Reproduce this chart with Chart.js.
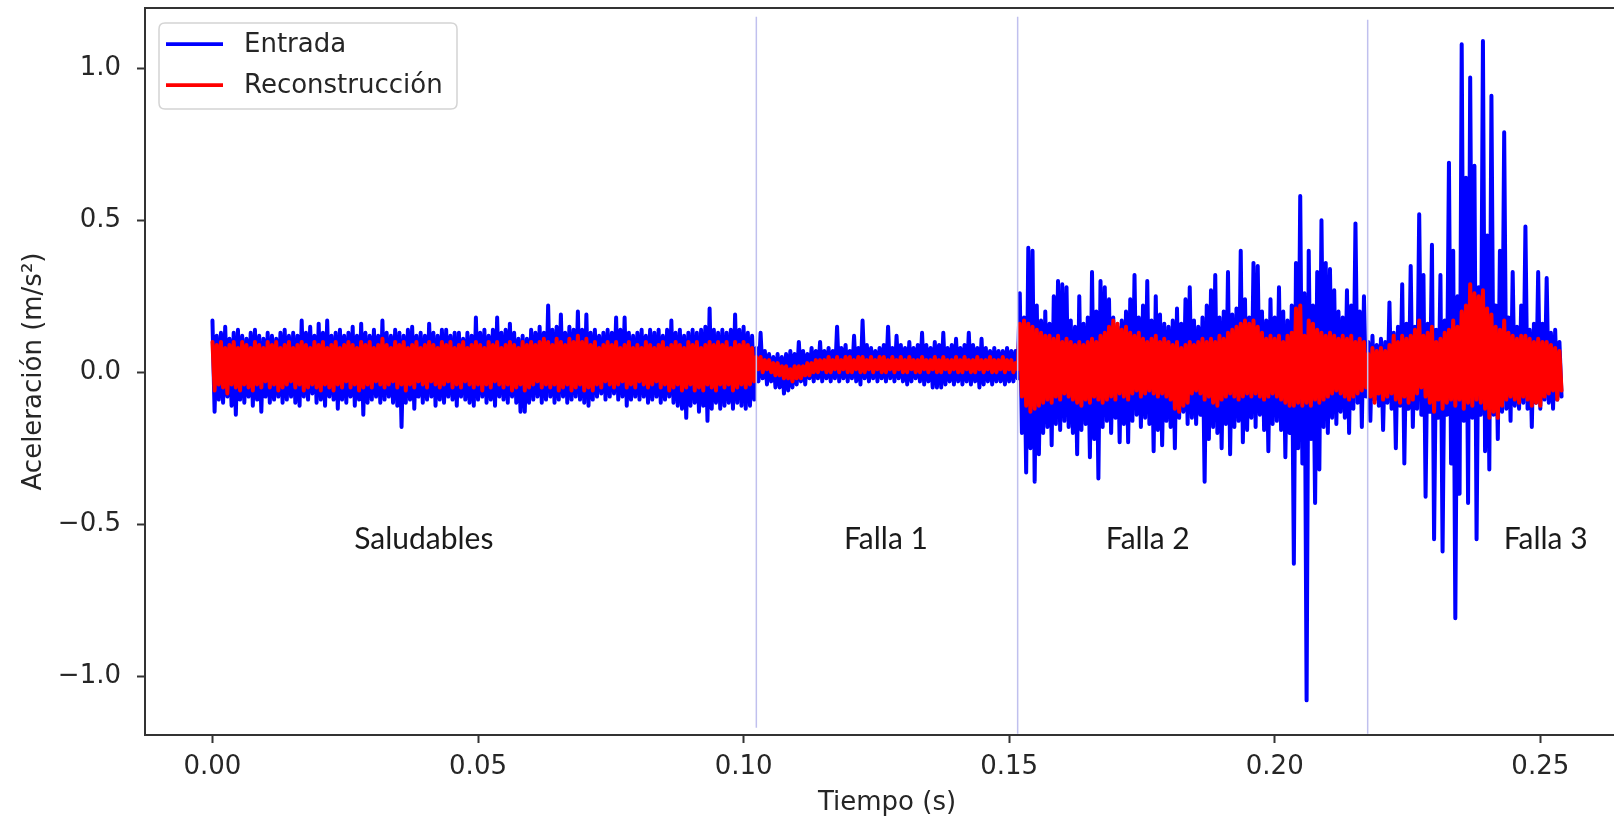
<!DOCTYPE html>
<html>
<head>
<meta charset="utf-8">
<script src="https://cdn.jsdelivr.net/npm/chart.js@4/dist/chart.umd.min.js"></script>
<style>
  html, body { margin: 0; padding: 0; background: #ffffff; overflow: hidden; width: 1614px; height: 820px; }
  #wrap { position: relative; width: 1640px; height: 820px; }
  canvas { display: block; }
</style>
</head>
<body>
<div id="wrap"><canvas id="chart" width="1640" height="820"></canvas></div>
<script>
// ---------------- DATA ----------------
// Time between two consecutive drawn samples (s); each pair = local max then local min
const SAMPLE_STEP = 0.0004;

const entradaMax = [
  // Saludables (0 - 0.1024 s)
  0.17, 0.12, 0.13, 0.15, 0.11, 0.13, 0.14, 0.12, 0.11, 0.13,
  0.14, 0.12, 0.11, 0.13, 0.12, 0.11, 0.13, 0.14, 0.12, 0.13,
  0.12, 0.17, 0.13, 0.15, 0.12, 0.16, 0.13, 0.17, 0.12, 0.13,
  0.14, 0.12, 0.13, 0.15, 0.12, 0.16, 0.13, 0.12, 0.14, 0.12,
  0.17, 0.13, 0.12, 0.14, 0.13, 0.12, 0.14, 0.15, 0.12, 0.13,
  0.12, 0.16, 0.13, 0.12, 0.14, 0.14, 0.12, 0.13, 0.13, 0.11,
  0.13, 0.12, 0.18, 0.13, 0.14, 0.12, 0.14, 0.18, 0.13, 0.14,
  0.16, 0.13, 0.11, 0.12, 0.11, 0.14, 0.13, 0.15, 0.13, 0.22,
  0.14, 0.15, 0.19, 0.13, 0.15, 0.14, 0.20, 0.14, 0.19, 0.13,
  0.14, 0.12, 0.13, 0.14, 0.13, 0.18, 0.14, 0.18, 0.13, 0.12,
  0.13, 0.14, 0.12, 0.14, 0.13, 0.14, 0.12, 0.14, 0.17, 0.13,
  0.14, 0.12, 0.13, 0.14, 0.13, 0.14, 0.15, 0.21, 0.14, 0.13,
  0.14, 0.13, 0.14, 0.19, 0.14, 0.15, 0.13, 0.12,
  // Falla 1 (0.1024 - 0.1516 s)
  0.08, 0.13, 0.07, 0.06, 0.05, 0.06, 0.05, 0.06, 0.07, 0.06,
  0.10, 0.07, 0.06, 0.08, 0.07, 0.10, 0.07, 0.08, 0.07, 0.15,
  0.08, 0.09, 0.07, 0.12, 0.08, 0.17, 0.09, 0.08, 0.07, 0.08,
  0.09, 0.15, 0.08, 0.12, 0.09, 0.08, 0.10, 0.08, 0.09, 0.13,
  0.09, 0.08, 0.10, 0.09, 0.13, 0.08, 0.09, 0.11, 0.08, 0.09,
  0.13, 0.09, 0.08, 0.11, 0.08, 0.07, 0.08, 0.07, 0.07, 0.08,
  0.07, 0.07,
  // Falla 2 (0.1520 - 0.2172 s)
  0.26, 0.18, 0.41, 0.40, 0.22, 0.17, 0.20, 0.16, 0.25, 0.30,
  0.29, 0.28, 0.17, 0.15, 0.25, 0.16, 0.18, 0.33, 0.20, 0.30,
  0.28, 0.24, 0.18, 0.15, 0.17, 0.20, 0.24, 0.32, 0.18, 0.22,
  0.30, 0.17, 0.25, 0.19, 0.16, 0.15, 0.17, 0.21, 0.16, 0.24,
  0.28, 0.17, 0.15, 0.18, 0.22, 0.27, 0.32, 0.18, 0.20, 0.33,
  0.19, 0.21, 0.40, 0.24, 0.18, 0.36, 0.35, 0.20, 0.17, 0.24,
  0.18, 0.28, 0.20, 0.17, 0.22, 0.36, 0.58, 0.26, 0.40, 0.22,
  0.33, 0.50, 0.36, 0.34, 0.27, 0.20, 0.18, 0.27, 0.22, 0.49,
  0.20, 0.25,
  // Falla 3 (0.2176 - 0.2540 s)
  0.10, 0.12, 0.09, 0.11, 0.10, 0.23, 0.13, 0.15, 0.29, 0.16,
  0.35, 0.15, 0.52, 0.32, 0.16, 0.42, 0.14, 0.32, 0.17, 0.69,
  0.40, 0.25, 1.08, 0.64, 0.97, 0.68, 0.28, 1.09, 0.45, 0.91,
  0.22, 0.40, 0.79, 0.18, 0.33, 0.15, 0.22, 0.48, 0.14, 0.16,
  0.33, 0.16, 0.31, 0.13, 0.14, 0.10
];
const entradaMin = [
  // Saludables
  -0.13, -0.09, -0.10, -0.08, -0.11, -0.14, -0.09, -0.10, -0.08, -0.11,
  -0.09, -0.13, -0.08, -0.10, -0.09, -0.08, -0.10, -0.09, -0.08, -0.10,
  -0.11, -0.08, -0.09, -0.07, -0.10, -0.09, -0.11, -0.08, -0.09, -0.12,
  -0.09, -0.10, -0.08, -0.11, -0.09, -0.14, -0.10, -0.09, -0.08, -0.10,
  -0.09, -0.08, -0.10, -0.11, -0.18, -0.10, -0.09, -0.12, -0.08, -0.10,
  -0.09, -0.08, -0.11, -0.09, -0.10, -0.08, -0.09, -0.11, -0.08, -0.09,
  -0.10, -0.11, -0.09, -0.08, -0.10, -0.09, -0.11, -0.08, -0.09, -0.10,
  -0.08, -0.10, -0.13, -0.13, -0.10, -0.09, -0.08, -0.10, -0.09, -0.08,
  -0.10, -0.09, -0.08, -0.10, -0.09, -0.08, -0.09, -0.10, -0.11, -0.09,
  -0.08, -0.07, -0.09, -0.08, -0.07, -0.09, -0.08, -0.11, -0.09, -0.08,
  -0.09, -0.08, -0.10, -0.09, -0.08, -0.10, -0.09, -0.08, -0.10, -0.11,
  -0.12, -0.15, -0.11, -0.10, -0.13, -0.11, -0.16, -0.12, -0.10, -0.12,
  -0.11, -0.10, -0.12, -0.10, -0.11, -0.12, -0.11, -0.09,
  // Falla 1
  -0.03, -0.02, -0.04, -0.03, -0.05, -0.05, -0.07, -0.06, -0.05, -0.04,
  -0.03, -0.04, -0.02, -0.03, -0.02, -0.03, -0.02, -0.03, -0.02, -0.03,
  -0.02, -0.03, -0.02, -0.03, -0.04, -0.02, -0.03, -0.02, -0.03, -0.02,
  -0.03, -0.02, -0.03, -0.02, -0.03, -0.04, -0.03, -0.02, -0.03, -0.04,
  -0.03, -0.05, -0.05, -0.05, -0.04, -0.03, -0.04, -0.03, -0.04, -0.03,
  -0.04, -0.03, -0.05, -0.04, -0.03, -0.04, -0.03, -0.03, -0.04, -0.03,
  -0.03, -0.02,
  // Falla 2
  -0.20, -0.33, -0.25, -0.36, -0.27, -0.20, -0.18, -0.24, -0.17, -0.19,
  -0.16, -0.18, -0.20, -0.27, -0.19, -0.17, -0.28, -0.22, -0.35, -0.18,
  -0.16, -0.20, -0.15, -0.23, -0.17, -0.23, -0.16, -0.14, -0.18, -0.15,
  -0.17, -0.26, -0.19, -0.24, -0.16, -0.18, -0.25, -0.15, -0.13, -0.17,
  -0.15, -0.17, -0.14, -0.36, -0.22, -0.18, -0.20, -0.25, -0.17, -0.27,
  -0.18, -0.16, -0.23, -0.19, -0.15, -0.18, -0.14, -0.19, -0.26, -0.17,
  -0.16, -0.19, -0.28, -0.20, -0.63, -0.25, -0.30, -1.08, -0.22, -0.43,
  -0.32, -0.18, -0.20, -0.15, -0.17, -0.13, -0.15, -0.20, -0.12, -0.10,
  -0.18, -0.08,
  // Falla 3
  -0.16, -0.09, -0.11, -0.19, -0.10, -0.12, -0.25, -0.11, -0.30, -0.12,
  -0.18, -0.12, -0.14, -0.41, -0.13, -0.55, -0.15, -0.59, -0.14, -0.30,
  -0.81, -0.40, -0.16, -0.43, -0.15, -0.55, -0.14, -0.26, -0.32, -0.14,
  -0.22, -0.13, -0.12, -0.16, -0.11, -0.12, -0.10, -0.12, -0.18, -0.10,
  -0.12, -0.09, -0.10, -0.12, -0.09, -0.08
];

const reconMax = [
  // Saludables
  0.10, 0.09, 0.10, 0.08, 0.09, 0.10, 0.08, 0.10, 0.09, 0.08,
  0.10, 0.09, 0.08, 0.10, 0.09, 0.10, 0.08, 0.09, 0.10, 0.08,
  0.09, 0.10, 0.09, 0.08, 0.10, 0.09, 0.10, 0.08, 0.09, 0.10,
  0.08, 0.09, 0.10, 0.09, 0.08, 0.10, 0.09, 0.10, 0.08, 0.09,
  0.11, 0.09, 0.08, 0.10, 0.09, 0.10, 0.08, 0.09, 0.10, 0.08,
  0.09, 0.10, 0.09, 0.08, 0.10, 0.09, 0.10, 0.08, 0.09, 0.10,
  0.08, 0.09, 0.10, 0.09, 0.08, 0.10, 0.09, 0.10, 0.08, 0.09,
  0.10, 0.09, 0.08, 0.10, 0.09, 0.10, 0.09, 0.10, 0.11, 0.10,
  0.09, 0.11, 0.10, 0.09, 0.11, 0.10, 0.12, 0.10, 0.11, 0.09,
  0.10, 0.08, 0.09, 0.10, 0.09, 0.10, 0.08, 0.09, 0.10, 0.08,
  0.09, 0.08, 0.10, 0.09, 0.08, 0.09, 0.10, 0.08, 0.09, 0.10,
  0.09, 0.08, 0.10, 0.09, 0.10, 0.08, 0.09, 0.10, 0.09, 0.10,
  0.09, 0.10, 0.08, 0.10, 0.09, 0.10, 0.09, 0.08,
  // Falla 1
  0.05, 0.05, 0.04, 0.04, 0.03, 0.03, 0.02, 0.02, 0.01, 0.02,
  0.02, 0.02, 0.03, 0.03, 0.04, 0.04, 0.04, 0.05, 0.04, 0.05,
  0.04, 0.05, 0.05, 0.04, 0.05, 0.05, 0.04, 0.05, 0.04, 0.05,
  0.05, 0.04, 0.05, 0.04, 0.05, 0.04, 0.05, 0.04, 0.04, 0.05,
  0.04, 0.04, 0.05, 0.04, 0.05, 0.04, 0.04, 0.05, 0.04, 0.05,
  0.04, 0.04, 0.05, 0.04, 0.04, 0.05, 0.04, 0.04, 0.05, 0.04,
  0.04, 0.03,
  // Falla 2
  0.16, 0.17, 0.16, 0.15, 0.14, 0.13, 0.12, 0.12, 0.11, 0.12,
  0.10, 0.11, 0.10, 0.09, 0.10, 0.09, 0.10, 0.11, 0.10, 0.12,
  0.13, 0.15, 0.17, 0.16, 0.14, 0.15, 0.13, 0.12, 0.13, 0.11,
  0.10, 0.11, 0.12, 0.10, 0.11, 0.10, 0.09, 0.10, 0.08, 0.09,
  0.10, 0.09, 0.10, 0.11, 0.10, 0.11, 0.10, 0.12, 0.11, 0.13,
  0.14, 0.15, 0.16, 0.17, 0.16, 0.17, 0.15, 0.13, 0.11, 0.12,
  0.11, 0.12, 0.10, 0.12, 0.13, 0.21, 0.22, 0.12, 0.17, 0.16,
  0.14, 0.13, 0.12, 0.13, 0.12, 0.11, 0.12, 0.11, 0.12, 0.10,
  0.11, 0.10,
  // Falla 3
  0.06, 0.08, 0.07, 0.08, 0.07, 0.09, 0.12, 0.10, 0.12, 0.11,
  0.12, 0.14, 0.17, 0.12, 0.13, 0.15, 0.10, 0.11, 0.13, 0.14,
  0.17, 0.15, 0.20, 0.22, 0.29, 0.26, 0.25, 0.27, 0.21, 0.19,
  0.15, 0.14, 0.17, 0.13, 0.12, 0.11, 0.12, 0.12, 0.11, 0.10,
  0.11, 0.10, 0.10, 0.09, 0.08, 0.07
];
const reconMin = [
  // Saludables
  -0.06, -0.04, -0.05, -0.07, -0.04, -0.05, -0.06, -0.04, -0.05, -0.06,
  -0.04, -0.05, -0.03, -0.05, -0.04, -0.06, -0.05, -0.04, -0.03, -0.05,
  -0.04, -0.06, -0.05, -0.04, -0.05, -0.06, -0.04, -0.05, -0.06, -0.04,
  -0.05, -0.03, -0.05, -0.04, -0.06, -0.05, -0.04, -0.05, -0.03, -0.04,
  -0.05, -0.04, -0.03, -0.05, -0.04, -0.06, -0.04, -0.05, -0.03, -0.04,
  -0.05, -0.03, -0.04, -0.05, -0.04, -0.03, -0.05, -0.04, -0.05, -0.03,
  -0.04, -0.05, -0.04, -0.06, -0.04, -0.05, -0.03, -0.04, -0.05, -0.04,
  -0.06, -0.05, -0.04, -0.06, -0.05, -0.04, -0.03, -0.05, -0.04, -0.05,
  -0.04, -0.06, -0.05, -0.04, -0.06, -0.05, -0.04, -0.06, -0.05, -0.06,
  -0.04, -0.05, -0.03, -0.04, -0.05, -0.04, -0.03, -0.05, -0.04, -0.05,
  -0.03, -0.04, -0.05, -0.04, -0.03, -0.05, -0.04, -0.06, -0.05, -0.04,
  -0.06, -0.05, -0.04, -0.06, -0.05, -0.06, -0.04, -0.05, -0.06, -0.04,
  -0.05, -0.04, -0.06, -0.05, -0.04, -0.05, -0.04, -0.03,
  // Falla 1
  0.01, 0.00, 0.01, 0.00, -0.01, -0.01, -0.02, -0.02, -0.03, -0.02,
  -0.02, -0.01, -0.01, 0.00, 0.00, 0.01, 0.00, 0.00, 0.01, 0.00,
  0.01, 0.00, 0.00, 0.01, 0.00, 0.00, 0.01, 0.00, 0.01, 0.00,
  0.00, 0.01, 0.00, 0.01, 0.00, 0.00, 0.01, 0.00, 0.00, 0.01,
  0.00, 0.01, 0.00, 0.00, 0.01, 0.00, 0.01, 0.00, 0.00, 0.01,
  0.00, 0.00, 0.01, 0.00, 0.01, 0.00, 0.00, 0.01, 0.00, 0.01,
  0.00, 0.01,
  // Falla 2
  -0.08, -0.11, -0.13, -0.12, -0.11, -0.10, -0.09, -0.10, -0.08, -0.09,
  -0.07, -0.08, -0.09, -0.10, -0.11, -0.09, -0.10, -0.08, -0.09, -0.10,
  -0.09, -0.08, -0.09, -0.07, -0.08, -0.09, -0.07, -0.06, -0.08, -0.07,
  -0.06, -0.07, -0.08, -0.07, -0.08, -0.09, -0.12, -0.13, -0.11, -0.10,
  -0.07, -0.06, -0.07, -0.09, -0.08, -0.10, -0.11, -0.09, -0.08, -0.07,
  -0.08, -0.09, -0.08, -0.07, -0.08, -0.07, -0.08, -0.09, -0.08, -0.07,
  -0.08, -0.09, -0.10, -0.11, -0.11, -0.10, -0.11, -0.10, -0.11, -0.09,
  -0.10, -0.09, -0.08, -0.07, -0.06, -0.07, -0.08, -0.09, -0.08, -0.07,
  -0.06, -0.05,
  // Falla 3
  -0.08, -0.10, -0.07, -0.09, -0.08, -0.07, -0.09, -0.10, -0.08, -0.10,
  -0.09, -0.07, -0.05, -0.08, -0.10, -0.13, -0.09, -0.12, -0.10, -0.09,
  -0.11, -0.09, -0.12, -0.10, -0.11, -0.09, -0.10, -0.12, -0.15, -0.13,
  -0.15, -0.11, -0.09, -0.08, -0.09, -0.10, -0.08, -0.09, -0.11, -0.10,
  -0.11, -0.08, -0.07, -0.06, -0.09, -0.06
];

const seriesNames = ['Entrada', 'Reconstrucción'];
const xTickValues = [0.00, 0.05, 0.10, 0.15, 0.20, 0.25];
const xTickLabels = ['0.00', '0.05', '0.10', '0.15', '0.20', '0.25'];
const yTickValues = [-1.0, -0.5, 0.0, 0.5, 1.0];
const yTickLabels = ['\u22121.0', '\u22120.5', '0.0', '0.5', '1.0'];

// Region separators (time, s) and region labels
const boundaryX = [0.1024, 0.1516, 0.2175];
const boundaryTop = [1.17, 1.17, 1.16];
const boundaryBottom = [-1.17, -1.19, -1.19];
const regionNames = ['Saludables', 'Falla 1', 'Falla 2', 'Falla 3'];
const regionX = [0.0398, 0.1268, 0.1761, 0.2510];
const regionY = [-0.551, -0.551, -0.551, -0.551];

// ---------------- BUILD ----------------
function zigzag(maxArr, minArr) {
  const pts = [];
  for (let i = 0; i < maxArr.length; i++) {
    pts.push({ x: (2 * i) * SAMPLE_STEP, y: maxArr[i] });
    pts.push({ x: (2 * i + 1) * SAMPLE_STEP, y: minArr[i] });
  }
  return pts;
}

const BLUE = '#0000ff';
const RED = '#ff0000';
const TXT = '#262626';
const FONT = "'DejaVu Sans', sans-serif";

function labelFor(values, labels, v) {
  for (let i = 0; i < values.length; i++) if (Math.abs(values[i] - v) < 1e-9) return labels[i];
  return '';
}

const overlay = {
  id: 'overlay',
  afterDatasetsDraw(chart) {
    const { ctx, chartArea: a, scales: { x, y } } = chart;
    ctx.save();
    // separators
    ctx.strokeStyle = '#c0c0ee';
    ctx.lineWidth = 1.5;
    boundaryX.forEach((bx, i) => {
      const px = x.getPixelForValue(bx);
      ctx.beginPath();
      ctx.moveTo(px, y.getPixelForValue(boundaryTop[i]));
      ctx.lineTo(px, y.getPixelForValue(boundaryBottom[i]));
      ctx.stroke();
    });
    // region labels
    ctx.fillStyle = '#1a1a1a';
    ctx.font = "30px Lato, 'Open Sans', sans-serif";
    ctx.textAlign = 'center';
    ctx.textBaseline = 'middle';
    regionNames.forEach((t, i) => {
      ctx.fillText(t, x.getPixelForValue(regionX[i]), y.getPixelForValue(regionY[i]));
    });
    // spines
    ctx.strokeStyle = '#333333';
    ctx.lineWidth = 2;
    ctx.strokeRect(a.left, a.top, a.right - a.left, a.bottom - a.top);
    // legend
    const bx = a.left + 14, by = a.top + 15, bw = 298, bh = 86, r = 6;
    ctx.beginPath();
    ctx.moveTo(bx + r, by);
    ctx.lineTo(bx + bw - r, by);
    ctx.quadraticCurveTo(bx + bw, by, bx + bw, by + r);
    ctx.lineTo(bx + bw, by + bh - r);
    ctx.quadraticCurveTo(bx + bw, by + bh, bx + bw - r, by + bh);
    ctx.lineTo(bx + r, by + bh);
    ctx.quadraticCurveTo(bx, by + bh, bx, by + bh - r);
    ctx.lineTo(bx, by + r);
    ctx.quadraticCurveTo(bx, by, bx + r, by);
    ctx.closePath();
    ctx.fillStyle = 'rgba(255,255,255,0.85)';
    ctx.fill();
    ctx.strokeStyle = '#d4d4d4';
    ctx.lineWidth = 1.5;
    ctx.stroke();
    const colors = [BLUE, RED];
    ctx.font = '26px ' + FONT;
    ctx.textAlign = 'left';
    ctx.textBaseline = 'middle';
    seriesNames.forEach((name, i) => {
      const ly = a.top + 36 + i * 41;
      ctx.strokeStyle = colors[i];
      ctx.lineWidth = 3.75;
      ctx.lineCap = 'butt';
      ctx.beginPath();
      ctx.moveTo(a.left + 21, ly);
      ctx.lineTo(a.left + 78, ly);
      ctx.stroke();
      ctx.fillStyle = TXT;
      ctx.fillText(name, a.left + 99, ly + 1);
    });
    ctx.restore();
  }
};

new Chart(document.getElementById('chart'), {
  type: 'line',
  data: {
    datasets: [
      {
        label: seriesNames[1],
        data: zigzag(reconMax, reconMin),
        borderColor: RED,
        backgroundColor: RED,
        borderWidth: 4,
        pointRadius: 0,
        tension: 0,
        fill: false,
        borderJoinStyle: 'round',
        borderCapStyle: 'round',
        order: 0
      },
      {
        label: seriesNames[0],
        data: zigzag(entradaMax, entradaMin),
        borderColor: BLUE,
        backgroundColor: BLUE,
        borderWidth: 4,
        pointRadius: 0,
        tension: 0,
        fill: false,
        borderJoinStyle: 'round',
        borderCapStyle: 'round',
        order: 1
      }
    ]
  },
  options: {
    responsive: false,
    animation: false,
    devicePixelRatio: 1,
    layout: { padding: { left: 0, top: 8, right: 11, bottom: 0 } },
    plugins: { legend: { display: false }, tooltip: { enabled: false } },
    scales: {
      x: {
        type: 'linear',
        min: -0.0127,
        max: 0.2667,
        afterBuildTicks: s => { s.ticks = xTickValues.map(v => ({ value: v })); },
        afterFit: s => { s.height = 85; s.paddingLeft = 0; s.paddingRight = 0; },
        ticks: {
          callback: v => labelFor(xTickValues, xTickLabels, v),
          padding: 9, color: TXT, autoSkip: false, maxRotation: 0,
          font: { size: 26, family: FONT }
        },
        grid: { display: true, drawOnChartArea: false, drawTicks: true, tickLength: 8, tickWidth: 2, tickColor: '#333333' },
        border: { display: false },
        title: { display: true, text: 'Tiempo (s)', color: TXT, font: { size: 26, family: FONT }, padding: { top: 0, bottom: 1 } }
      },
      y: {
        type: 'linear',
        min: -1.194,
        max: 1.199,
        afterBuildTicks: s => { s.ticks = yTickValues.map(v => ({ value: v })); },
        afterFit: s => { s.width = 145; s.paddingTop = 0; s.paddingBottom = 0; },
        ticks: {
          callback: v => labelFor(yTickValues, yTickLabels, v),
          padding: 16, color: TXT, autoSkip: false,
          font: { size: 26, family: FONT }
        },
        grid: { display: true, drawOnChartArea: false, drawTicks: true, tickLength: 8, tickWidth: 2, tickColor: '#333333' },
        border: { display: false },
        title: { display: true, text: 'Aceleración (m/s²)', color: TXT, font: { size: 26, family: FONT }, padding: { top: 19, bottom: 0 } }
      }
    }
  },
  plugins: [overlay]
});
</script>
</body>
</html>
